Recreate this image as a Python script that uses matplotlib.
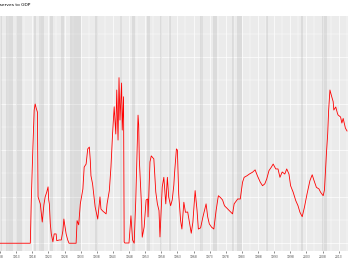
import matplotlib
matplotlib.use("Agg")
import matplotlib.pyplot as plt
import numpy as np

# series (decimal year, ratio)
years = [1907.0, 1917.4, 1917.7, 1918.2, 1918.6, 1918.9, 1919.2, 1919.6, 1919.8, 1920.1,
         1920.5, 1921.1, 1921.6, 1922.0, 1922.5, 1922.9, 1923.1, 1923.3, 1923.6, 1923.9,
         1924.4, 1924.8, 1925.4, 1925.6, 1926.4, 1927.0, 1927.5, 1927.8, 1928.5, 1929.0,
         1929.4, 1930.1, 1931.6, 1931.9, 1932.4, 1932.9, 1933.7, 1934.1, 1934.7, 1935.2,
         1935.7, 1936.0, 1936.2, 1936.7, 1937.5, 1938.3, 1939.0, 1939.3, 1939.8, 1940.9,
         1941.2, 1941.9, 1942.4, 1942.9, 1943.4, 1943.9, 1944.2, 1944.6, 1944.9, 1945.2,
         1945.7, 1945.9, 1946.3, 1946.5, 1946.7, 1948.0, 1948.6, 1949.1, 1949.6, 1950.1,
         1950.8, 1951.0, 1951.2, 1951.8, 1952.1, 1952.7, 1953.3, 1953.8, 1953.9, 1954.5,
         1954.9, 1955.7, 1955.9, 1956.3, 1956.8, 1957.3, 1957.6, 1958.3, 1958.8, 1959.4,
         1959.9, 1960.3, 1960.9, 1961.4, 1961.9, 1962.1, 1962.7, 1963.0, 1963.4, 1964.0,
         1964.4, 1965.0, 1965.5, 1966.2, 1966.8, 1967.3, 1967.8, 1968.5, 1969.1, 1969.5,
         1970.2, 1970.9, 1971.4, 1971.9, 1972.4, 1972.9, 1973.6, 1974.3, 1975.0, 1975.7,
         1976.3, 1977.0, 1977.6, 1978.6, 1979.6, 1980.1, 1980.6, 1981.7, 1982.5, 1983.2,
         1983.7, 1984.6, 1985.3, 1986.3, 1987.1, 1987.8, 1988.7, 1989.4, 1990.1, 1990.7,
         1991.4, 1992.1, 1992.7, 1993.5, 1994.2, 1994.8, 1995.5, 1996.3, 1996.9, 1997.6,
         1998.1, 1998.9, 1999.7, 2000.4, 2001.0, 2001.7, 2002.4, 2003.2, 2004.1, 2004.8,
         2005.3, 2006.1, 2006.9, 2007.4, 2008.2, 2008.6, 2009.2, 2009.6, 2009.9, 2010.3,
         2010.7, 2011.3, 2011.5, 2012.1, 2012.6, 2012.8, 2013.6, 2014.0, 2014.4, 2015.1,
         2015.6]
ratio = [0.0, 0.0, 1.83, 4.13, 5.72, 5.98, 5.81, 5.63, 1.99, 1.86,
         1.69, 0.91, 1.64, 1.99, 2.20, 2.42, 1.86, 1.69, 0.83, 0.40,
         0.06, 0.40, 0.40, 0.11, 0.14, 0.14, 0.54, 1.04, 0.40, 0.14,
         0.0, 0.0, 0.0, 0.97, 0.79, 1.69, 2.33, 3.27, 3.40, 4.05,
         4.13, 3.55, 2.90, 2.55, 1.56, 1.04, 1.99, 1.47, 1.39, 1.26,
         1.69, 2.26, 3.27, 4.69, 5.86, 4.69, 6.58, 4.43, 7.11, 5.29,
         6.88, 4.86, 6.29, 0.06, 0.01, 0.01, 1.18, 0.14, 0.0, 1.86,
         5.50, 5.08, 3.58, 1.83, 0.26, 0.70, 1.86, 1.90, 1.13, 3.49,
         3.75, 3.62, 3.12, 2.20, 1.69, 1.40, 0.27, 2.42, 2.83, 1.69,
         2.83, 1.99, 1.61, 1.86, 2.50, 2.97, 4.05, 4.00, 2.12, 0.97,
         0.61, 1.76, 1.33, 1.34, 0.83, 0.43, 0.90, 2.26, 1.40, 0.61,
         0.66, 1.12, 1.40, 1.69, 1.13, 0.83, 0.69, 0.61, 1.40, 2.04,
         1.97, 1.86, 1.61, 1.47, 1.33, 1.26, 1.69, 1.90, 1.90, 2.62,
         2.83, 2.90, 2.97, 3.05, 3.15, 2.90, 2.62, 2.47, 2.55, 2.76,
         3.12, 3.26, 3.40, 3.19, 3.19, 2.83, 3.06, 2.97, 3.19, 2.97,
         2.47, 2.19, 1.83, 1.61, 1.33, 1.14, 1.55, 2.12, 2.69, 2.94,
         2.72, 2.40, 2.33, 2.19, 2.04, 2.29, 3.83, 4.69, 5.72, 6.58,
         6.37, 6.08, 5.72, 5.85, 5.59, 5.51, 5.42, 5.16, 5.36, 4.94,
         4.82]

# NBER recessions (peak, trough)
rec_start = [1907.4, 1910.0, 1913.0, 1918.6, 1920.0, 1923.4, 1926.8, 1929.6, 1937.4, 1945.1,
             1948.9, 1953.5, 1957.6, 1960.3, 1969.9, 1973.9, 1980.0, 1981.5, 1990.5, 2001.2,
             2007.9]
rec_end = [1908.5, 1912.0, 1914.9, 1919.2, 1921.5, 1924.5, 1927.9, 1933.2, 1938.5, 1945.8,
           1949.8, 1954.4, 1958.3, 1961.1, 1970.9, 1975.2, 1980.5, 1982.9, 1991.2, 2001.9,
           2009.5]

tick_years = list(range(1908, 2016, 5))

fig = plt.figure(figsize=(3.48, 2.68), dpi=100)
ax = fig.add_axes([0.0, 0.0646, 1.0, 0.8768])
ax.set_facecolor("#EBEBEB")

for s, e in zip(rec_start, rec_end):
    ax.axvspan(s, e, facecolor="grey", alpha=0.15, lw=0, zorder=1)

ax.plot(years, ratio, color="red", lw=0.6, zorder=3)

ax.set_xlim(1908.5, 2015.9)
ax.set_ylim(-0.32, 9.77)

ax.set_xticks(tick_years)
ax.set_xticklabels([str(y) for y in tick_years])
ax.set_xticks([y + 2.5 for y in tick_years], minor=True)
ax.set_yticks(np.arange(0, 10, 2))
ax.set_yticks(np.arange(1, 10, 2), minor=True)

ax.grid(which="major", color="white", lw=0.5, zorder=0)
ax.grid(which="minor", color="white", lw=0.3, zorder=0)
ax.set_axisbelow(True)

for sp in ax.spines.values():
    sp.set_visible(False)

ax.tick_params(axis="x", which="major", length=1.6, width=0.4, color="#333333",
               labelsize=2.2, labelcolor="#4D4D4D", pad=1.5)
ax.tick_params(axis="x", which="minor", length=0)
ax.tick_params(axis="y", which="both", length=0, labelleft=False)

fig.text(30 / 348, 1 - 4.5 / 268, "Excess reserves to GDP", ha="right", va="center",
         fontsize=3.2, color="black")

fig.savefig("out.png", dpi=100)
